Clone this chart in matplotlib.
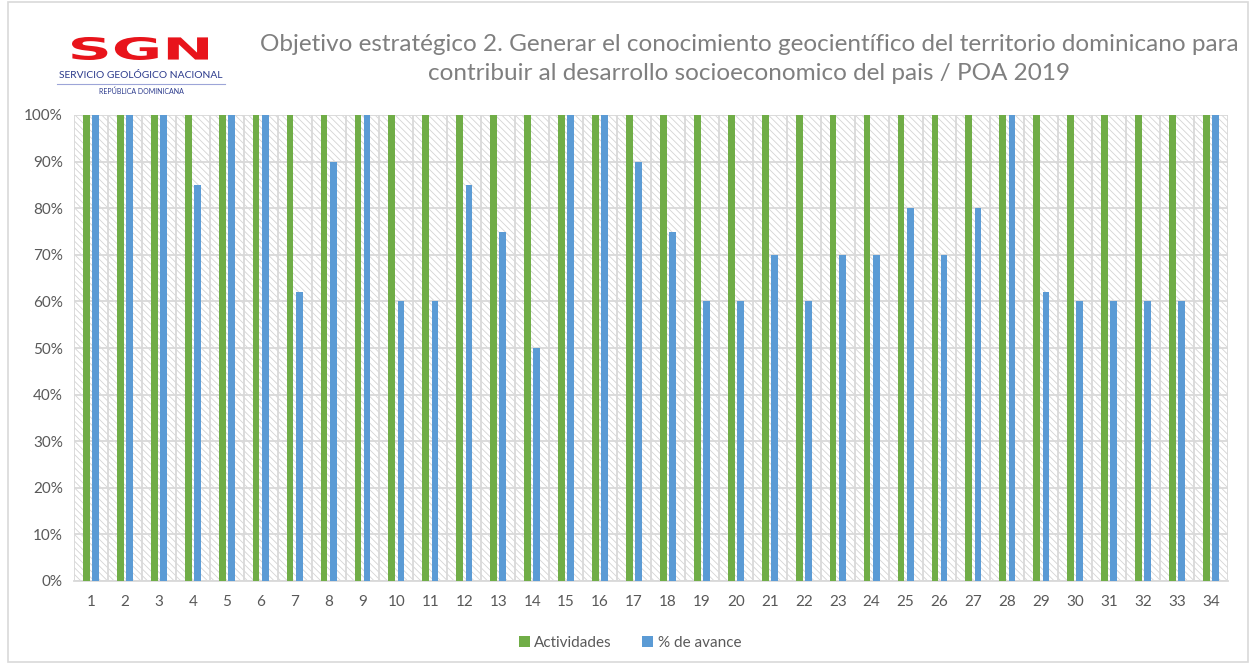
import matplotlib
matplotlib.use("Agg")
import matplotlib.pyplot as plt
from matplotlib.patches import Rectangle, PathPatch
from matplotlib.textpath import TextPath
from matplotlib.font_manager import FontProperties
from matplotlib.transforms import Affine2D, IdentityTransform
from matplotlib.ticker import FuncFormatter
import numpy as np

categories = [str(i) for i in range(1, 35)]
actividades = [100] * 34
avance = [100, 100, 100, 85, 100, 100, 62, 90, 100, 60, 60, 85, 75, 50, 100, 100, 90,
          75, 60, 60, 70, 60, 70, 70, 80, 70, 80, 100, 62, 60, 60, 60, 60, 100]
series_names = ["Actividades", "% de avance"]
title = ("Objetivo estratégico 2. Generar el conocimiento geocientífico del territorio dominicano para\n"
         "contribuir al desarrollo socioeconomico del pais / POA 2019")

GREEN = "#70AD47"
BLUE = "#5B9BD5"
GRID = "#D9D9D9"
TXT = "#595959"

plt.rcParams['font.family'] = ['Lato', 'DejaVu Sans']
plt.rcParams['hatch.linewidth'] = 0.6

W, H = 1250, 664
fig = plt.figure(figsize=(12.5, 6.64), dpi=100)
fig.patches.append(Rectangle((8/W, 2/H), 1240/W, 660/H, transform=fig.transFigure,
                             fill=False, edgecolor=GRID, linewidth=1.2))

ax = fig.add_axes([74/W, 1 - 581/H, (1228 - 74)/W, (581 - 115)/H])
x = np.arange(1, len(categories) + 1)
ax.set_xlim(0.5, len(categories) + 0.5)
ax.set_ylim(0, 100)

# hatched background
ax.add_patch(Rectangle((0, 0), 1, 1, transform=ax.transAxes, facecolor="white",
                       edgecolor="#D4D4D4", hatch="\\\\\\\\\\", linewidth=0, zorder=0))

w = 0.2
ax.bar(x - 0.135, actividades, width=w, color=GREEN, label=series_names[0], zorder=3)
ax.bar(x + 0.135, avance, width=w, color=BLUE, label=series_names[1], zorder=3)

ax.set_yticks(np.arange(0, 101, 10))
ax.yaxis.set_major_formatter(FuncFormatter(lambda v, p: f"{int(v)}%"))
ax.set_xticks(x)
ax.set_xticklabels(categories)
ax.set_xticks(np.arange(0.5, len(categories) + 1, 1), minor=True)
ax.grid(axis='y', which='major', color=GRID, linewidth=1.3, zorder=1)
ax.grid(axis='x', which='minor', color=GRID, linewidth=1.3, zorder=1)
ax.set_axisbelow(True)
ax.tick_params(axis='both', which='both', length=0, labelsize=11, colors=TXT)
ax.tick_params(axis='x', pad=10)
ax.tick_params(axis='y', pad=8)
for s in ['top', 'right', 'left']:
    ax.spines[s].set_visible(False)
ax.spines['bottom'].set_color(GRID)
ax.spines['bottom'].set_linewidth(1.3)

fig.text(749/W, 1 - 59/H, title, ha='center', va='center', fontsize=17.5,
         color="#7F7F7F", linespacing=1.45)

# logo (text rendition, stretched)
tp = TextPath((0, 0), "SGN", size=20, prop=FontProperties(family='DejaVu Sans', weight='bold'))
ext = tp.get_extents()
x0, x1, y0, y1 = 72, 208, H - 60, H - 37
tr = (Affine2D().translate(-ext.x0, -ext.y0)
      .scale((x1 - x0) / ext.width, (y1 - y0) / ext.height).translate(x0, y0))
fig.patches.append(PathPatch(tr.transform_path(tp), transform=IdentityTransform(),
                             facecolor="#E8141B", edgecolor="none"))
fig.text(141/W, 1 - 76/H, "SERVICIO GEOLÓGICO NACIONAL", ha='center', va='center',
         fontsize=7.4, color="#2B3A8C")
fig.lines.append(plt.Line2D([57/W, 225/W], [1 - 84/H, 1 - 84/H],
                            transform=fig.transFigure, color="#9DA5D8", linewidth=0.8))
fig.text(141/W, 1 - 91/H, "REPÚBLICA DOMINICANA", ha='center', va='center',
         fontsize=5, color="#2B3A8C")

leg = fig.legend(loc='center', bbox_to_anchor=(630/W, 1 - 643/H), ncol=2,
                 frameon=False, fontsize=11, handlelength=0.7, handleheight=0.7,
                 columnspacing=2.0, handletextpad=0.3, labelcolor=TXT)

fig.savefig("out.png", dpi=100, facecolor="white")
